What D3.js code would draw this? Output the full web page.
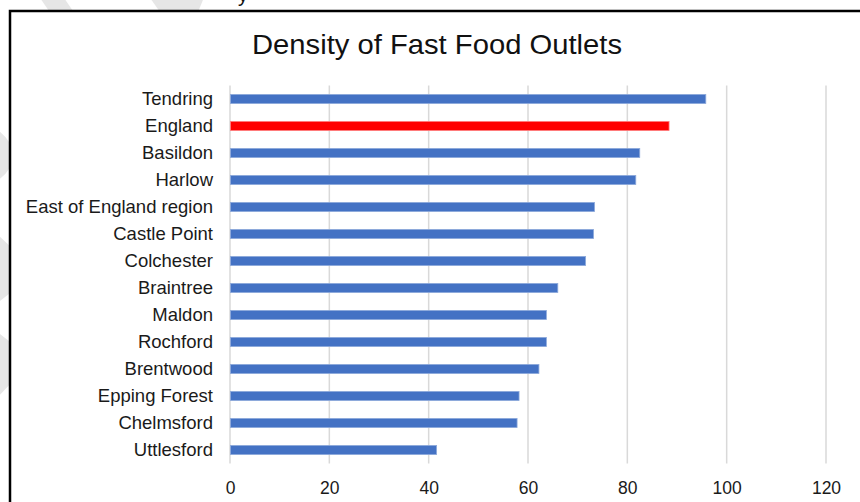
<!DOCTYPE html>
<html>
<head>
<meta charset="utf-8">
<script src="https://cdn.jsdelivr.net/npm/d3@7/dist/d3.min.js"></script>
<style>
  html, body { margin: 0; padding: 0; background: #fff; }
  svg { display: block; font-family: "Liberation Sans", Arial, sans-serif; }
</style>
</head>
<body>
<svg id="chart" width="860" height="502"></svg>
<script>
// Fast food outlets per 100,000 population, by area
const areas = ["Tendring", "England", "Basildon", "Harlow", "East of England region",
  "Castle Point", "Colchester", "Braintree", "Maldon", "Rochford", "Brentwood",
  "Epping Forest", "Chelmsford", "Uttlesford"];
const density = [95.8, 88.4, 82.5, 81.7, 73.4, 73.2, 71.6, 66.0, 63.7, 63.7, 62.2, 58.2, 57.8, 41.6];
const highlight = ["England"];
const xTicks = [0, 20, 40, 60, 80, 100, 120];
const title = "Density of Fast Food Outlets";

const svg = d3.select("#chart");
const W = 860, H = 502;

// faint background watermark strokes around the framed chart
const wm = svg.append("g").attr("fill", "#e6e6e6");
wm.append("path").attr("d", "M38,-5 L62,-5 L86,30 L62,30 Z");
wm.append("path").attr("d", "M148,-5 L205,-5 L198,12 Q180,30 160,12 Z");
wm.append("path").attr("d", "M-5,128 Q12,140 14,155 Q12,172 -5,182 Z");
wm.append("path").attr("d", "M-5,232 L14,250 L14,290 L-5,305 Z");
wm.append("path").attr("d", "M-5,330 L14,345 L14,380 L-5,400 Z");

// tail of a line of text sitting above the frame
svg.append("text").attr("x", 238).attr("y", 2)
  .attr("font-size", 20).attr("fill", "#111").text("y");

// chart frame
svg.append("rect").attr("x", 10).attr("y", 11).attr("width", W + 20).attr("height", H + 20)
  .attr("fill", "#fff").attr("stroke", "#000").attr("stroke-width", 2.5);

const margin = { left: 230, right: 34, top: 85.5, bottom: 38.5 };
const x = d3.scaleLinear().domain([0, 120]).range([margin.left, 826]);
const y = d3.scaleBand().domain(areas).range([margin.top, H - margin.bottom]).paddingInner(0.66).paddingOuter(0.33);

// title
svg.append("text").attr("x", 252).attr("y", 54)
  .attr("font-size", 27.5).attr("fill", "#111")
  .attr("textLength", 370).attr("lengthAdjust", "spacingAndGlyphs")
  .text(title);

// vertical gridlines
svg.append("g").selectAll("line").data(xTicks).join("line")
  .attr("x1", d => x(d)).attr("x2", d => x(d))
  .attr("y1", margin.top).attr("y2", H - margin.bottom)
  .attr("stroke", "#d9d9d9").attr("stroke-width", 1.5);

// bars
svg.append("g").selectAll("rect").data(areas).join("rect")
  .attr("x", x(0) + 0.5)
  .attr("y", d => y(d))
  .attr("width", (d, i) => x(density[i]) - x(0) - 0.5)
  .attr("height", y.bandwidth())
  .attr("fill", d => highlight.includes(d) ? "#ff0000" : "#4472c4")
  .attr("stroke", d => highlight.includes(d) ? "#ff8080" : "#8eaadb")
  .attr("stroke-width", 0.8);

// category axis labels
const yAxis = d3.axisLeft(y).tickSize(0).tickPadding(17);
const gy = svg.append("g").attr("transform", `translate(${margin.left},0)`).call(yAxis);
gy.select(".domain").remove();
gy.selectAll("text").attr("font-size", 18.5).attr("fill", "#1a1a1a")
  .attr("font-family", "'Liberation Sans', Arial, sans-serif");

// value axis labels
const xAxis = d3.axisBottom(x).tickValues(xTicks).tickSize(0).tickPadding(0).tickFormat(d3.format("d"));
const gx = svg.append("g").attr("transform", `translate(0,${H - margin.bottom + 18})`).call(xAxis);
gx.select(".domain").remove();
gx.selectAll("text").attr("font-size", 17.5).attr("fill", "#1a1a1a")
  .attr("font-family", "'Liberation Sans', Arial, sans-serif");
</script>
</body>
</html>
